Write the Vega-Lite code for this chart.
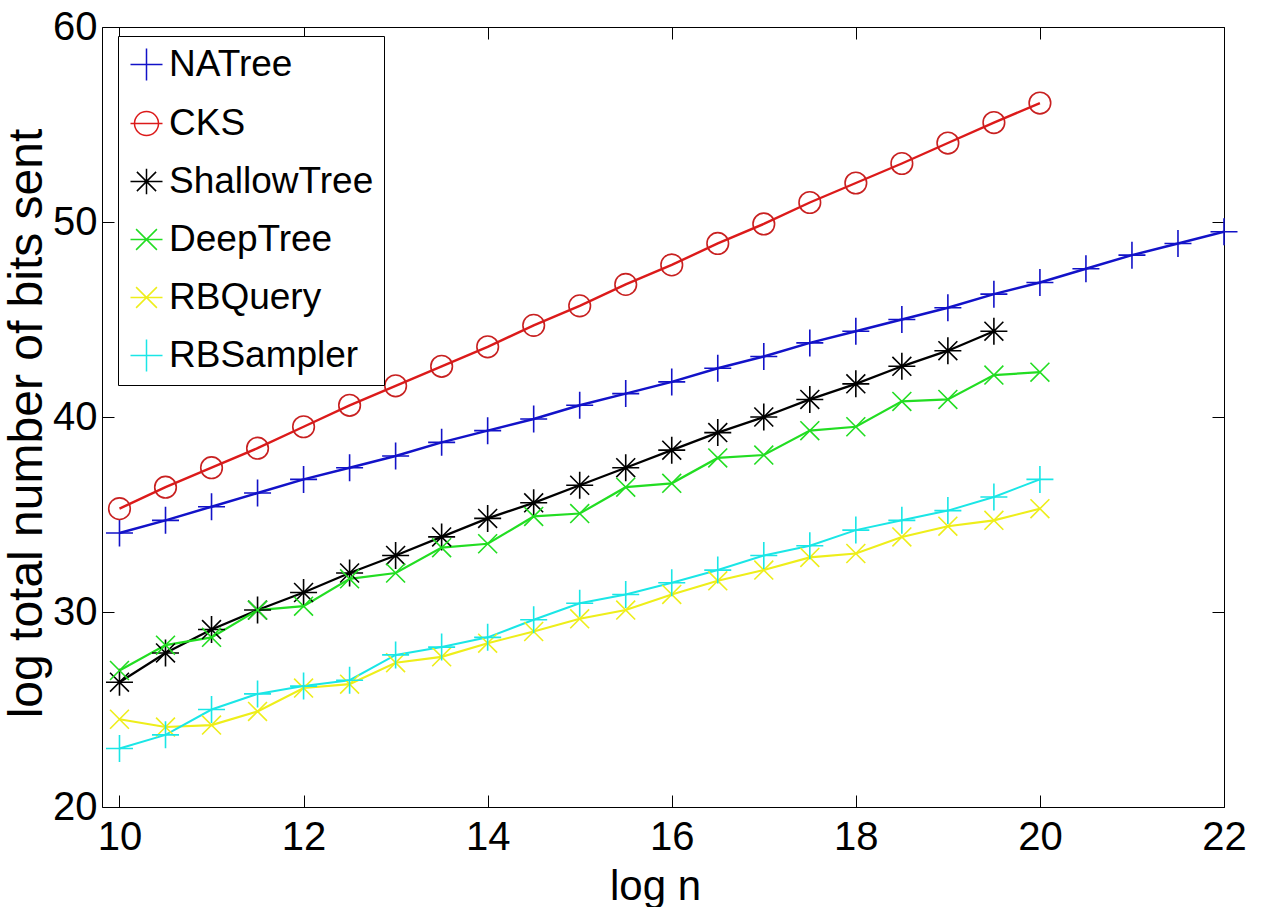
{
  "$schema": "https://vega.github.io/schema/vega-lite/v6.json",
  "width": 1122,
  "height": 780,
  "autosize": "none",
  "padding": {"left": 102, "top": 27, "right": 38, "bottom": 100},
  "background": "white",
  "config": {
    "font": "Liberation Sans",
    "view": {"stroke": "black", "strokeWidth": 1},
    "axis": {"grid": false, "domain": false, "tickColor": "black", "labelColor": "black", "titleColor": "black", "titleFontWeight": "normal", "labelFont": "Liberation Sans", "titleFont": "Liberation Sans"},
    "legend": {
      "orient": "none", "legendX": 16, "legendY": 9, "padding": 10,
      "strokeColor": "black", "fillColor": "white",
      "labelFont": "Liberation Sans", "labelFontSize": 37, "labelColor": "black",
      "symbolSize": 1024, "symbolStrokeWidth": 1.5, "rowPadding": 20, "labelOffset": 4,
      "labelLimit": 400
    }
  },
  "data": {"values": [
    {"series":"NATree","x":10,"y":34.05},{"series":"NATree","x":10.5,"y":34.7},{"series":"NATree","x":11,"y":35.4},{"series":"NATree","x":11.5,"y":36.1},{"series":"NATree","x":12,"y":36.8},{"series":"NATree","x":12.5,"y":37.4},{"series":"NATree","x":13,"y":38.0},{"series":"NATree","x":13.5,"y":38.7},{"series":"NATree","x":14,"y":39.3},{"series":"NATree","x":14.5,"y":39.9},{"series":"NATree","x":15,"y":40.6},{"series":"NATree","x":15.5,"y":41.2},{"series":"NATree","x":16,"y":41.8},{"series":"NATree","x":16.5,"y":42.5},{"series":"NATree","x":17,"y":43.1},{"series":"NATree","x":17.5,"y":43.8},{"series":"NATree","x":18,"y":44.4},{"series":"NATree","x":18.5,"y":45.0},{"series":"NATree","x":19,"y":45.6},{"series":"NATree","x":19.5,"y":46.3},{"series":"NATree","x":20,"y":46.9},{"series":"NATree","x":20.5,"y":47.6},{"series":"NATree","x":21,"y":48.3},{"series":"NATree","x":21.5,"y":48.9},{"series":"NATree","x":22,"y":49.5},
    {"series":"CKS","x":10,"y":35.3},{"series":"CKS","x":10.5,"y":36.4},{"series":"CKS","x":11,"y":37.4},{"series":"CKS","x":11.5,"y":38.4},{"series":"CKS","x":12,"y":39.5},{"series":"CKS","x":12.5,"y":40.6},{"series":"CKS","x":13,"y":41.6},{"series":"CKS","x":13.5,"y":42.6},{"series":"CKS","x":14,"y":43.6},{"series":"CKS","x":14.5,"y":44.7},{"series":"CKS","x":15,"y":45.7},{"series":"CKS","x":15.5,"y":46.8},{"series":"CKS","x":16,"y":47.8},{"series":"CKS","x":16.5,"y":48.9},{"series":"CKS","x":17,"y":49.9},{"series":"CKS","x":17.5,"y":51.0},{"series":"CKS","x":18,"y":52.0},{"series":"CKS","x":18.5,"y":53.0},{"series":"CKS","x":19,"y":54.05},{"series":"CKS","x":19.5,"y":55.1},{"series":"CKS","x":20,"y":56.1},
    {"series":"ShallowTree","x":10,"y":26.4},{"series":"ShallowTree","x":10.5,"y":27.9},{"series":"ShallowTree","x":11,"y":29.1},{"series":"ShallowTree","x":11.5,"y":30.1},{"series":"ShallowTree","x":12,"y":31.0},{"series":"ShallowTree","x":12.5,"y":32.0},{"series":"ShallowTree","x":13,"y":32.9},{"series":"ShallowTree","x":13.5,"y":33.85},{"series":"ShallowTree","x":14,"y":34.8},{"series":"ShallowTree","x":14.5,"y":35.6},{"series":"ShallowTree","x":15,"y":36.5},{"series":"ShallowTree","x":15.5,"y":37.4},{"series":"ShallowTree","x":16,"y":38.3},{"series":"ShallowTree","x":16.5,"y":39.2},{"series":"ShallowTree","x":17,"y":40.0},{"series":"ShallowTree","x":17.5,"y":40.9},{"series":"ShallowTree","x":18,"y":41.7},{"series":"ShallowTree","x":18.5,"y":42.6},{"series":"ShallowTree","x":19,"y":43.4},{"series":"ShallowTree","x":19.5,"y":44.4},
    {"series":"DeepTree","x":10,"y":27.0},{"series":"DeepTree","x":10.5,"y":28.3},{"series":"DeepTree","x":11,"y":28.7},{"series":"DeepTree","x":11.5,"y":30.1},{"series":"DeepTree","x":12,"y":30.3},{"series":"DeepTree","x":12.5,"y":31.7},{"series":"DeepTree","x":13,"y":32.0},{"series":"DeepTree","x":13.5,"y":33.3},{"series":"DeepTree","x":14,"y":33.5},{"series":"DeepTree","x":14.5,"y":34.9},{"series":"DeepTree","x":15,"y":35.05},{"series":"DeepTree","x":15.5,"y":36.4},{"series":"DeepTree","x":16,"y":36.6},{"series":"DeepTree","x":16.5,"y":37.9},{"series":"DeepTree","x":17,"y":38.05},{"series":"DeepTree","x":17.5,"y":39.3},{"series":"DeepTree","x":18,"y":39.5},{"series":"DeepTree","x":18.5,"y":40.8},{"series":"DeepTree","x":19,"y":40.9},{"series":"DeepTree","x":19.5,"y":42.15},{"series":"DeepTree","x":20,"y":42.3},
    {"series":"RBQuery","x":10,"y":24.5},{"series":"RBQuery","x":10.5,"y":24.1},{"series":"RBQuery","x":11,"y":24.2},{"series":"RBQuery","x":11.5,"y":24.9},{"series":"RBQuery","x":12,"y":26.1},{"series":"RBQuery","x":12.5,"y":26.3},{"series":"RBQuery","x":13,"y":27.4},{"series":"RBQuery","x":13.5,"y":27.7},{"series":"RBQuery","x":14,"y":28.4},{"series":"RBQuery","x":14.5,"y":29.0},{"series":"RBQuery","x":15,"y":29.65},{"series":"RBQuery","x":15.5,"y":30.1},{"series":"RBQuery","x":16,"y":30.9},{"series":"RBQuery","x":16.5,"y":31.6},{"series":"RBQuery","x":17,"y":32.15},{"series":"RBQuery","x":17.5,"y":32.8},{"series":"RBQuery","x":18,"y":33.0},{"series":"RBQuery","x":18.5,"y":33.85},{"series":"RBQuery","x":19,"y":34.4},{"series":"RBQuery","x":19.5,"y":34.7},{"series":"RBQuery","x":20,"y":35.3},
    {"series":"RBSampler","x":10,"y":23.0},{"series":"RBSampler","x":10.5,"y":23.7},{"series":"RBSampler","x":11,"y":25.0},{"series":"RBSampler","x":11.5,"y":25.8},{"series":"RBSampler","x":12,"y":26.2},{"series":"RBSampler","x":12.5,"y":26.5},{"series":"RBSampler","x":13,"y":27.8},{"series":"RBSampler","x":13.5,"y":28.2},{"series":"RBSampler","x":14,"y":28.7},{"series":"RBSampler","x":14.5,"y":29.6},{"series":"RBSampler","x":15,"y":30.45},{"series":"RBSampler","x":15.5,"y":30.9},{"series":"RBSampler","x":16,"y":31.5},{"series":"RBSampler","x":16.5,"y":32.15},{"series":"RBSampler","x":17,"y":32.9},{"series":"RBSampler","x":17.5,"y":33.4},{"series":"RBSampler","x":18,"y":34.2},{"series":"RBSampler","x":18.5,"y":34.7},{"series":"RBSampler","x":19,"y":35.2},{"series":"RBSampler","x":19.5,"y":35.9},{"series":"RBSampler","x":20,"y":36.8}
  ]},
  "layer": [
    {
      "mark": {"type": "line", "clip": true},
      "encoding": {
        "x": {"field": "x", "type": "quantitative", "scale": {"domain": [9.81, 22.0], "nice": false, "zero": false},
          "axis": {"orient": "bottom", "values": [10,12,14,16,18,20,22], "tickSize": -12, "labelPadding": 22, "labelFontSize": 40, "labelFlush": false,
            "title": "log n", "titleFontSize": 42, "titleX": 553, "titleY": 92, "titleAlign": "center", "titleBaseline": "alphabetic"}},
        "y": {"field": "y", "type": "quantitative", "scale": {"domain": [20, 60], "nice": false, "zero": false},
          "axis": {"orient": "left", "values": [20,30,40,50,60], "tickSize": -12, "labelPadding": 17, "labelFontSize": 40, "labelFlush": false,
            "title": "log total number of bits sent", "titleFontSize": 48, "titleAngle": -90, "titleX": -75, "titleY": 396, "titleAlign": "center", "titleBaseline": "middle"}},
        "color": {"field": "series", "type": "nominal", "legend": null,
          "scale": {"domain": ["NATree","CKS","ShallowTree","DeepTree","RBQuery","RBSampler"], "range": ["#1212c8","#dc1a1a","#000000","#22dd22","#eeee1a","#1ae6e6"]}},
        "strokeWidth": {"field": "series", "type": "nominal", "legend": null,
          "scale": {"domain": ["NATree","CKS","ShallowTree","DeepTree","RBQuery","RBSampler"], "range": [2.5, 2, 2, 3, 3.5, 3]}}
      }
    },
    {
      "mark": {"type": "point", "filled": false, "size": 729, "strokeWidth": 1.6, "opacity": 1, "clip": false},
      "encoding": {
        "x": {"field": "x", "type": "quantitative", "scale": {"domain": [9.81, 22.0], "nice": false, "zero": false},
          "axis": {"orient": "top", "values": [10,12,14,16,18,20,22], "tickSize": -12, "labels": false, "title": null}},
        "y": {"field": "y", "type": "quantitative", "scale": {"domain": [20, 60], "nice": false, "zero": false},
          "axis": {"orient": "right", "values": [20,30,40,50,60], "tickSize": -12, "labels": false, "title": null}},
        "color": {"field": "series", "type": "nominal", "legend": null,
          "scale": {"domain": ["NATree","CKS","ShallowTree","DeepTree","RBQuery","RBSampler"], "range": ["#1212c8","#c82020","#000000","#22dd22","#eeee1a","#1ae6e6"]}},
        "shape": {"field": "series", "type": "nominal", "legend": null,
          "scale": {"domain": ["NATree","CKS","ShallowTree","DeepTree","RBQuery","RBSampler"],
            "range": ["M-1,0L1,0M0,-1L0,1",
                      "M-0.8,0A0.8,0.8 0 1,1 0.8,0A0.8,0.8 0 1,1 -0.8,0Z",
                      "M-1,0L1,0M0,-1L0,1M-0.7,-0.7L0.7,0.7M-0.7,0.7L0.7,-0.7",
                      "M-0.7,-0.7L0.7,0.7M-0.7,0.7L0.7,-0.7",
                      "M-0.7,-0.7L0.7,0.7M-0.7,0.7L0.7,-0.7",
                      "M-1,0L1,0M0,-1L0,1"]}}
      }
    },
    {
      "mark": {"type": "point", "filled": false, "strokeWidth": 1.5, "opacity": 1, "clip": true},
      "encoding": {
        "x": {"datum": 0, "type": "quantitative", "scale": {"domain": [9.81, 22.0], "nice": false, "zero": false}, "axis": null},
        "y": {"datum": 0, "type": "quantitative", "scale": {"domain": [20, 60], "nice": false, "zero": false}, "axis": null},
        "color": {"field": "series", "type": "nominal", "legend": {"title": null},
          "scale": {"domain": ["NATree","CKS","ShallowTree","DeepTree","RBQuery","RBSampler"], "range": ["#1212c8","#dc1a1a","#000000","#22dd22","#eeee1a","#1ae6e6"]}},
        "shape": {"field": "series", "type": "nominal", "legend": {"title": null},
          "scale": {"domain": ["NATree","CKS","ShallowTree","DeepTree","RBQuery","RBSampler"],
            "range": ["M-1,0L1,0M0,-1L0,1",
                      "M-1,0L1,0M-0.75,0A0.75,0.75 0 1,1 0.75,0A0.75,0.75 0 1,1 -0.75,0Z",
                      "M-1,0L1,0M0,-0.8L0,0.8M-0.6,-0.6L0.6,0.6M-0.6,0.6L0.6,-0.6",
                      "M-1,0L1,0M-0.65,-0.65L0.65,0.65M-0.65,0.65L0.65,-0.65",
                      "M-1,0L1,0M-0.65,-0.65L0.65,0.65M-0.65,0.65L0.65,-0.65",
                      "M-1,0L1,0M0,-1L0,1"]}}
      }
    }
  ],
  "resolve": {"scale": {"color": "independent", "shape": "independent"}}
}
